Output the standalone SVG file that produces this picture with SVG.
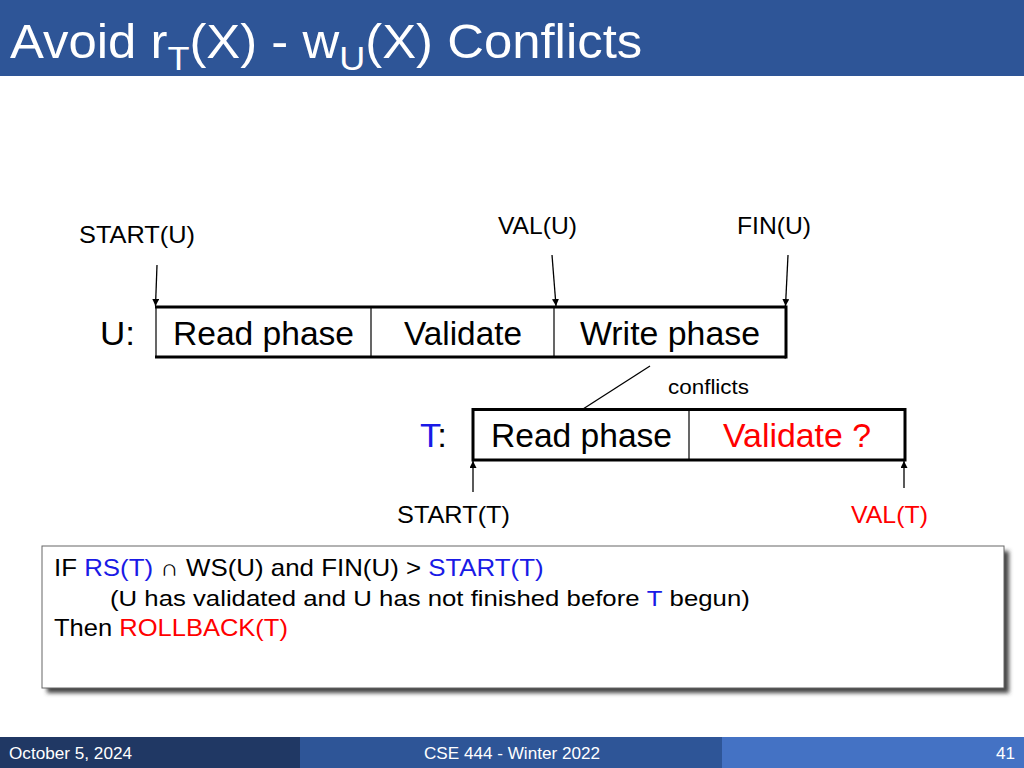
<svg xmlns="http://www.w3.org/2000/svg" width="1024" height="768" viewBox="0 0 1024 768">
<defs>
<style>
text{font-family:"Liberation Sans",Arial,sans-serif;}
.lbl{font-size:24px;fill:#000;}
.ph{font-size:34px;fill:#000;}
.ln{stroke:#000;stroke-width:1.3;fill:none;}
.thick{stroke:#000;stroke-width:3;fill:none;}
.thin{stroke:#000;stroke-width:1.2;fill:none;}
.blue{fill:#1A1AE6;}
.red{fill:#FF0000;}
.ft{font-size:17px;fill:#fff;}
.box{font-size:23px;fill:#000;}
</style>
<marker id="ah" viewBox="0 0 10 10" refX="10" refY="5" markerWidth="7" markerHeight="7" markerUnits="userSpaceOnUse" orient="auto">
<path d="M0,0 L10,5 L0,10 z" fill="#000"/>
</marker>
<filter id="sh" x="-5%" y="-10%" width="115%" height="130%">
<feGaussianBlur stdDeviation="2"/>
</filter>
</defs>
<rect width="1024" height="768" fill="#fff"/>
<g id="header">
<rect x="0" y="0" width="1024" height="76" fill="#2E5597"/>
<text transform="translate(10,58) scale(1.06,1)" font-size="48" fill="#fff">Avoid r<tspan font-size="34" dy="12">T</tspan><tspan dy="-12">(X) - w</tspan><tspan font-size="34" dy="12">U</tspan><tspan dy="-12">(X) Conflicts</tspan></text>
</g>
<g id="connectors">
<line class="ln" x1="157" y1="265" x2="155.5" y2="306" marker-end="url(#ah)"/>
<line class="ln" x1="552" y1="255" x2="556" y2="306" marker-end="url(#ah)"/>
<line class="ln" x1="788" y1="255" x2="785.5" y2="306" marker-end="url(#ah)"/>
<line class="ln" x1="650" y1="366" x2="583" y2="409"/>
<line class="ln" x1="473" y1="492" x2="473" y2="461" marker-end="url(#ah)"/>
<line class="ln" x1="904" y1="488" x2="904" y2="461" marker-end="url(#ah)"/>
</g>
<g id="labels">
<text class="lbl" x="79" y="243" textLength="116" lengthAdjust="spacingAndGlyphs">START(U)</text>
<text class="lbl" x="498" y="234" textLength="79" lengthAdjust="spacingAndGlyphs">VAL(U)</text>
<text class="lbl" x="737" y="234" textLength="74" lengthAdjust="spacingAndGlyphs">FIN(U)</text>
<text x="668" y="394" font-size="20" textLength="81" lengthAdjust="spacingAndGlyphs">conflicts</text>
<text class="lbl" x="397" y="523" textLength="113" lengthAdjust="spacingAndGlyphs">START(T)</text>
<text class="lbl red" x="851" y="523" textLength="77" lengthAdjust="spacingAndGlyphs">VAL(T)</text>
</g>
<g id="U">
<text class="ph" x="100" y="345" textLength="35" lengthAdjust="spacingAndGlyphs">U:</text>
<line class="thin" x1="156" y1="307" x2="156" y2="357"/>
<line class="thick" x1="155" y1="307" x2="786" y2="307"/>
<line class="thick" x1="155" y1="357" x2="786" y2="357"/>
<line class="thick" x1="786" y1="305.5" x2="786" y2="358.5"/>
<line class="thin" x1="371" y1="307" x2="371" y2="357"/>
<line class="thin" x1="554" y1="307" x2="554" y2="357"/>
<text class="ph" x="173" y="345" textLength="181" lengthAdjust="spacingAndGlyphs">Read phase</text>
<text class="ph" x="404" y="345" textLength="118" lengthAdjust="spacingAndGlyphs">Validate</text>
<text class="ph" x="580" y="345" textLength="180" lengthAdjust="spacingAndGlyphs">Write phase</text>
</g>
<g id="T">
<text class="ph" x="420" y="447" textLength="27" lengthAdjust="spacingAndGlyphs"><tspan class="blue">T</tspan>:</text>
<rect class="thick" x="473" y="409.5" width="432" height="50.5"/>
<line class="thin" x1="689" y1="409" x2="689" y2="460"/>
<text class="ph" x="491" y="447" textLength="181" lengthAdjust="spacingAndGlyphs">Read phase</text>
<text class="ph red" x="723" y="447" textLength="148" lengthAdjust="spacingAndGlyphs">Validate ?</text>
</g>
<g id="rule">
<rect x="47" y="551" width="962" height="142" fill="#444" filter="url(#sh)"/>
<rect x="42" y="546" width="962" height="142" fill="#fff" stroke="#666" stroke-width="1"/>
<text class="box" transform="translate(54,576) scale(1.125,1)">IF  <tspan class="blue">RS(T)</tspan> ∩ WS(U) and FIN(U) &gt; <tspan class="blue">START(T)</tspan></text>
<text class="box" transform="translate(110,606) scale(1.12,1)">(U has validated and  U has not finished before <tspan class="blue">T</tspan> begun)</text>
<text class="box" transform="translate(54,636) scale(1.11,1)">Then <tspan class="red">ROLLBACK(T)</tspan></text>
</g>
<g id="footer">
<rect x="0" y="737" width="300" height="31" fill="#203864"/>
<rect x="300" y="737" width="422" height="31" fill="#2E5597"/>
<rect x="722" y="737" width="302" height="31" fill="#4472C4"/>
<text class="ft" x="9" y="759" textLength="123" lengthAdjust="spacingAndGlyphs">October 5, 2024</text>
<text class="ft" x="424" y="759" textLength="176" lengthAdjust="spacingAndGlyphs">CSE 444 - Winter 2022</text>
<text class="ft" x="996" y="759" textLength="19" lengthAdjust="spacingAndGlyphs">41</text>
</g>
</svg>
